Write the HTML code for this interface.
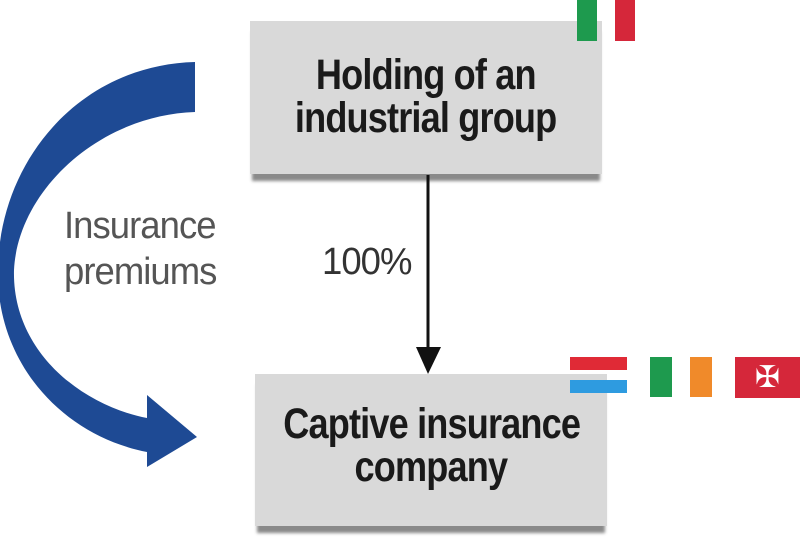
<!DOCTYPE html>
<html><head><style>
body{margin:0;width:800px;height:550px;background:#fff;overflow:hidden;position:relative;font-family:"Liberation Sans Narrow","Liberation Sans",sans-serif}
.box{position:absolute;background:#d9d9d9;box-shadow:0 9px 3px -2px #8a8a8a;text-align:center;font-weight:bold;color:#1a1a1a;font-size:43px;line-height:43px;letter-spacing:-1px}
.box span{display:inline-block;transform:scaleX(0.84);white-space:nowrap}
.t{position:absolute;color:#555;font-size:38px;line-height:46px;letter-spacing:-1px;transform:scaleX(0.96);transform-origin:left top;white-space:nowrap}
.f{position:absolute}
</style></head><body>
<div class="box" style="left:250px;top:21px;width:352px;height:153px"><div style="padding-top:33px"><span>Holding of an</span><br><span>industrial group</span></div></div>
<div class="box" style="left:255px;top:374px;width:352px;height:152px"><div style="padding-top:29px"><span>Captive insurance</span><br><span>company</span></div></div>
<div class="f" style="left:577px;top:0;width:20px;height:41px;background:#1e9a4e"></div>
<div class="f" style="left:615px;top:0;width:20px;height:41px;background:#d5273a"></div>
<div class="f" style="left:570px;top:357px;width:57px;height:13px;background:#e02a36"></div>
<div class="f" style="left:570px;top:380px;width:57px;height:13px;background:#2e9be0"></div>
<div class="f" style="left:650px;top:357px;width:22px;height:40px;background:#1e9a4e"></div>
<div class="f" style="left:690px;top:357px;width:22px;height:40px;background:#f08a2a"></div>
<div class="f" style="left:735px;top:357px;width:65px;height:41px;background:#d5273a;color:#fff;font-size:30px;line-height:41px;text-align:center">✠</div>
<div class="t" style="left:64px;top:203px">Insurance<br>premiums</div>
<div class="t" style="left:322px;top:239px;color:#333">100%</div>
<svg width="800" height="550" style="position:absolute;left:0;top:0">
<line x1="428" y1="175" x2="428" y2="350" stroke="#111" stroke-width="3"/>
<polygon points="416,347 441,347 428,374" fill="#111"/>
<path d="M195,62 L195,112 C100,115 18,190 14,270 C12,350 80,405 147,418 L147,395 L197,437 L147,467 L147,452 C60,435 -5,360 -2,268 C0,160 80,65 195,62 Z" fill="#1e4a94"/>
</svg>
</body></html>
